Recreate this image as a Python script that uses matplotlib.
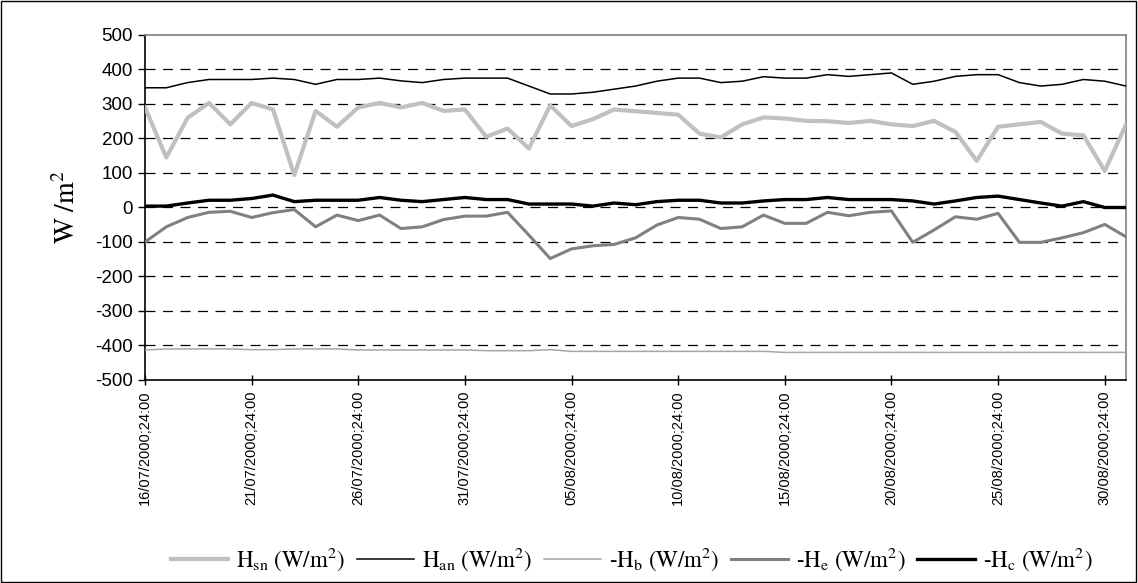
import numpy as np
import pandas as pd
import matplotlib
matplotlib.use("Agg")
import matplotlib.pyplot as plt
from matplotlib.patches import Rectangle

# daily means, 16/07/2000 .. 31/08/2000
days = pd.date_range("2000-07-16", "2000-08-31", freq="D")
dayLabels = [d.strftime("%d/%m/%Y") + ";24:00" for d in days]

Hsn = [290, 145, 260, 303, 241, 303, 284, 94, 280, 234, 290, 303, 290, 303, 280, 284,
       205, 229, 171, 296, 236, 256, 284, 279, 274, 269, 214, 203, 241, 261, 258, 251,
       250, 245, 251, 241, 236, 251, 219, 135, 234, 241, 248, 214, 209, 106, 241]
Han = [347, 347, 362, 371, 371, 371, 375, 371, 357, 371, 371, 375, 367, 362, 371, 375,
       375, 375, 352, 329, 329, 334, 343, 352, 366, 375, 375, 362, 366, 379, 375, 375,
       385, 380, 385, 390, 357, 366, 380, 385, 385, 362, 352, 357, 371, 366, 352]
Hb = [-413, -410, -410, -410, -410, -412, -412, -410, -410, -410, -413, -413, -413, -413, -413, -413,
      -415, -415, -415, -412, -417, -417, -417, -417, -417, -417, -417, -417, -417, -417, -420, -420,
      -420, -420, -420, -420, -420, -420, -420, -420, -420, -420, -420, -420, -420, -420, -420]
He = [-100, -56, -29, -14, -11, -29, -15, -6, -56, -22, -38, -22, -61, -56, -35, -25,
      -25, -14, -80, -148, -120, -111, -107, -88, -51, -29, -34, -61, -56, -22, -46, -46,
      -14, -24, -14, -10, -101, -65, -27, -34, -17, -101, -101, -88, -73, -49, -85]
Hc = [4, 4, 13, 21, 21, 26, 36, 17, 21, 21, 21, 29, 21, 17, 23, 29,
      23, 23, 10, 10, 10, 4, 13, 8, 17, 21, 21, 13, 13, 19, 23, 23,
      29, 23, 23, 23, 19, 10, 19, 29, 33, 23, 13, 4, 17, 0, 0]

plt.rcParams['font.family'] = ['Liberation Sans', 'DejaVu Sans']
plt.rcParams['mathtext.fontset'] = 'stix'
plt.rcParams['axes.unicode_minus'] = False

fig = plt.figure(figsize=(11.38, 5.83), dpi=100)
ax = fig.add_axes([0.1274, 0.3482, 0.8621, 0.5918])

x = np.arange(len(days))
ax.plot(x, Hsn, color='#c0c0c0', lw=3.0, label=r'$\mathrm{H_{sn}\ (W/m^2)}$', zorder=3)
ax.plot(x, Han, color='black', lw=1.1, label=r'$\mathrm{H_{an}\ (W/m^2)}$', zorder=3)
ax.plot(x, Hb, color='#a6a6a6', lw=1.1, label=r'$\mathrm{\text{-}H_{b}\ (W/m^2)}$', zorder=3)
ax.plot(x, He, color='#808080', lw=2.2, label=r'$\mathrm{\text{-}H_{e}\ (W/m^2)}$', zorder=3)
ax.plot(x, Hc, color='black', lw=2.4, label=r'$\mathrm{\text{-}H_{c}\ (W/m^2)}$', zorder=3)

ax.set_xlim(0, len(days) - 1)
ax.set_ylim(-500, 500)
ax.set_yticks(np.arange(-500, 501, 100))
ax.set_xticks(x[::5])
ax.set_xticklabels(dayLabels[::5], rotation=90, fontsize=10.5)
ax.tick_params(axis='y', labelsize=13.5, direction='out', length=5, width=1)
ax.tick_params(axis='x', direction='inout', length=7, width=1, pad=4)

for v in range(-400, 500, 100):
    ax.axhline(v, color='black', lw=0.9, ls=(0, (8, 6)), zorder=1)

ax.spines['left'].set_color('black')
ax.spines['bottom'].set_color('black')
ax.spines['top'].set_color('#808080')
ax.spines['right'].set_color('#808080')
for s in ax.spines.values():
    s.set_linewidth(1.2)

ax.set_ylabel(r'$\mathrm{W\ /m^2}$', fontsize=20, labelpad=10)

leg = fig.legend(loc='center', bbox_to_anchor=(0.555, 0.04), ncol=5, frameon=False,
                 fontsize=16.5, handlelength=2.5, columnspacing=0.5, handletextpad=0.35)

# outer frame
fig.patches.append(Rectangle((0.001, 0.001), 0.997, 0.997, transform=fig.transFigure,
                             fill=False, edgecolor='black', lw=1))

fig.savefig("out.png", dpi=100)
